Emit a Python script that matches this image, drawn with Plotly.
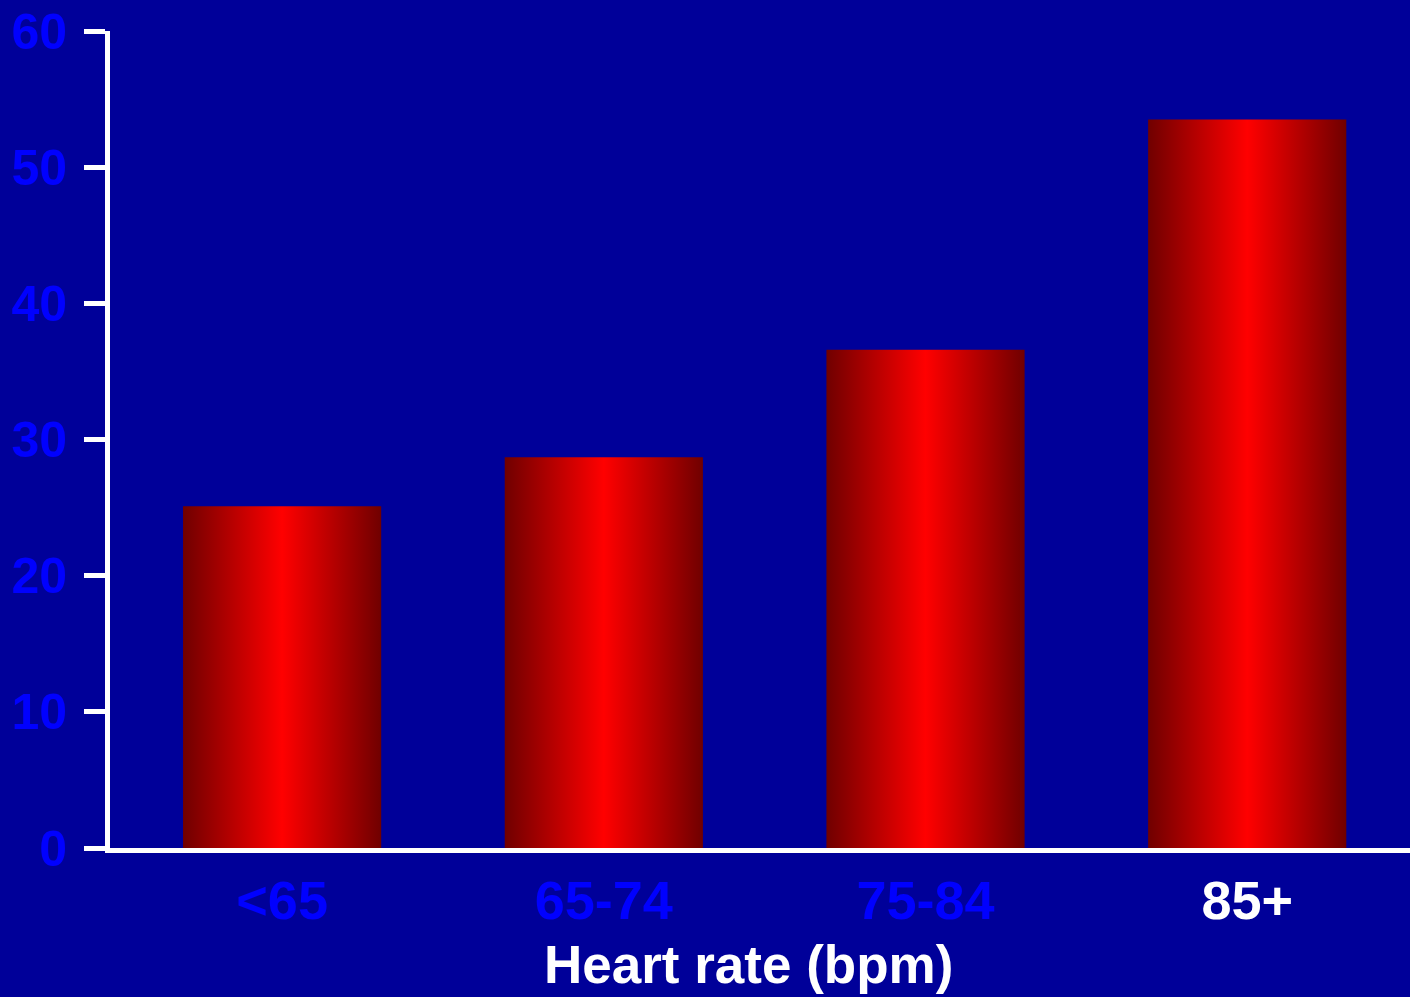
import plotly.graph_objects as go

categories = ["<65", "65-74", "75-84", "85+"]
values = [25.1, 28.7, 36.6, 53.5]
label_colors = ["#0000FF", "#0000FF", "#0000FF", "#FFFFFF"]
y_ticks = [0, 10, 20, 30, 40, 50, 60]

BAR_WIDTH = 0.616
BG = "#000099"
FONT = "Arial, Liberation Sans, sans-serif"
GRAD = [[0, "#700000"], [0.5, "#FF0000"], [1, "#700000"]]

fig = go.Figure()
for i, (cat, v) in enumerate(zip(categories, values)):
    x0, x1 = i - BAR_WIDTH / 2, i + BAR_WIDTH / 2
    fig.add_trace(go.Scatter(
        x=[x0, x1, x1, x0, x0],
        y=[0, 0, v, v, 0],
        mode="none",
        fill="toself",
        fillgradient=dict(type="horizontal", colorscale=GRAD),
        hoverinfo="text",
        text=f"{cat}: {v}",
        showlegend=False,
    ))

ticktext = [f"<span style='color:{c}'>{t}</span>" for t, c in zip(categories, label_colors)]

fig.update_layout(
    width=1410, height=997,
    paper_bgcolor=BG, plot_bgcolor=BG,
    margin=dict(l=110, r=0, t=31, b=149),
    showlegend=False,
    font=dict(family=FONT),
    xaxis=dict(
        range=[-0.535, 3.506],
        tickmode="array",
        tickvals=list(range(len(categories))),
        ticktext=ticktext,
        tickfont=dict(size=54, color="#0000FF", family=FONT, weight="bold"),
        showgrid=False, zeroline=False,
        showline=True, linecolor="white", linewidth=5,
        ticks="", ticklabelstandoff=1,
    ),
    yaxis=dict(
        range=[0, 60],
        tickmode="array",
        tickvals=y_ticks,
        tickfont=dict(size=50, color="#0000FF", family=FONT, weight="bold"),
        showgrid=False, zeroline=False,
        showline=True, linecolor="white", linewidth=5,
        ticks="outside", ticklen=21, tickwidth=5, tickcolor="white",
        ticklabelstandoff=7,
    ),
    annotations=[dict(
        text="<b>Heart rate (bpm)</b>",
        xref="paper", yref="paper",
        x=0.4912, y=-0.1424,
        xanchor="center", yanchor="middle",
        showarrow=False,
        font=dict(size=53, color="white", family=FONT),
    )],
)

fig.write_html("out.html", config={"displayModeBar": False},
               post_script="document.body.style.margin='0';")
